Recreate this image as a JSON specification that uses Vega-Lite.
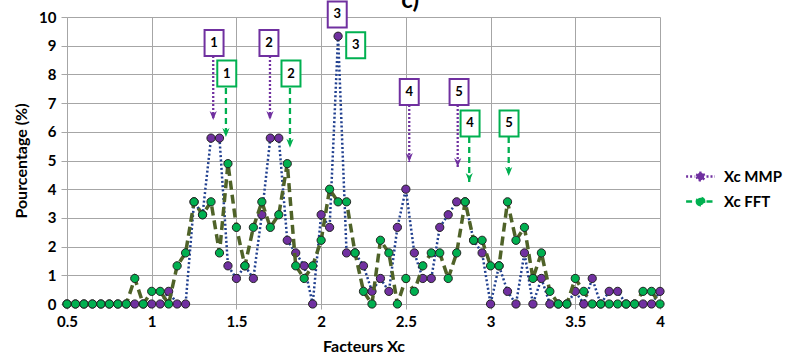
{
  "$schema": "https://vega.github.io/schema/vega-lite/v6.json",
  "width": 593,
  "height": 287,
  "autosize": {"type": "none"},
  "padding": {"left": 67, "top": 17, "right": 125, "bottom": 58},
  "background": "white",
  "config": {
    "view": {"stroke": null},
    "axis": {"labelFont": "Lato", "labelFontWeight": "bold", "labelFontSize": 15, "labelColor": "black", "titleFont": "Lato", "titleFontWeight": "bold", "titleFontSize": 16, "titleColor": "black", "gridColor": "#A6A6A6", "gridWidth": 1, "domainColor": "#A6A6A6", "tickColor": "#A6A6A6", "labelFlush": false},
    "axisX": {"tickCount": 7, "format": "~g", "tickSize": 5, "labelPadding": 5, "titlePadding": 9},
    "axisY": {"tickCount": 10, "tickSize": 6, "labelPadding": 5, "titlePadding": 9}
  },
  "datasets": {
    "d": [
      {"x": 0.5, "Xc MMP": 0, "Xc FFT": 0},
      {"x": 0.55, "Xc MMP": 0, "Xc FFT": 0},
      {"x": 0.6, "Xc MMP": 0, "Xc FFT": 0},
      {"x": 0.65, "Xc MMP": 0, "Xc FFT": 0},
      {"x": 0.7, "Xc MMP": 0, "Xc FFT": 0},
      {"x": 0.75, "Xc MMP": 0, "Xc FFT": 0},
      {"x": 0.8, "Xc MMP": 0, "Xc FFT": 0},
      {"x": 0.85, "Xc MMP": 0, "Xc FFT": 0},
      {"x": 0.9, "Xc MMP": 0, "Xc FFT": 0.89},
      {"x": 0.95, "Xc MMP": 0, "Xc FFT": 0},
      {"x": 1.0, "Xc MMP": 0, "Xc FFT": 0.44},
      {"x": 1.05, "Xc MMP": 0, "Xc FFT": 0.44},
      {"x": 1.1, "Xc MMP": 0.44, "Xc FFT": 0},
      {"x": 1.15, "Xc MMP": 0, "Xc FFT": 1.33},
      {"x": 1.2, "Xc MMP": 0, "Xc FFT": 1.78},
      {"x": 1.25, "Xc MMP": 3.56, "Xc FFT": 3.56},
      {"x": 1.3, "Xc MMP": 3.11, "Xc FFT": 3.11},
      {"x": 1.35, "Xc MMP": 5.78, "Xc FFT": 3.56},
      {"x": 1.4, "Xc MMP": 5.78, "Xc FFT": 1.78},
      {"x": 1.45, "Xc MMP": 1.33, "Xc FFT": 4.89},
      {"x": 1.5, "Xc MMP": 0.89, "Xc FFT": 2.67},
      {"x": 1.55, "Xc MMP": 1.33, "Xc FFT": 1.33},
      {"x": 1.6, "Xc MMP": 0.89, "Xc FFT": 2.67},
      {"x": 1.65, "Xc MMP": 3.11, "Xc FFT": 3.56},
      {"x": 1.7, "Xc MMP": 5.78, "Xc FFT": 2.67},
      {"x": 1.75, "Xc MMP": 5.78, "Xc FFT": 3.11},
      {"x": 1.8, "Xc MMP": 2.22, "Xc FFT": 4.89},
      {"x": 1.85, "Xc MMP": 1.78, "Xc FFT": 1.33},
      {"x": 1.9, "Xc MMP": 1.33, "Xc FFT": 0.89},
      {"x": 1.95, "Xc MMP": 0, "Xc FFT": 1.33},
      {"x": 2.0, "Xc MMP": 3.11, "Xc FFT": 2.22},
      {"x": 2.05, "Xc MMP": 2.67, "Xc FFT": 4.0},
      {"x": 2.1, "Xc MMP": 9.33, "Xc FFT": 3.56},
      {"x": 2.15, "Xc MMP": 1.78, "Xc FFT": 3.56},
      {"x": 2.2, "Xc MMP": 1.78, "Xc FFT": 1.78},
      {"x": 2.25, "Xc MMP": 1.33, "Xc FFT": 0.44},
      {"x": 2.3, "Xc MMP": 0.44, "Xc FFT": 0},
      {"x": 2.35, "Xc MMP": 0.89, "Xc FFT": 2.22},
      {"x": 2.4, "Xc MMP": 0.44, "Xc FFT": 1.78},
      {"x": 2.45, "Xc MMP": 2.67, "Xc FFT": 0},
      {"x": 2.5, "Xc MMP": 4.0, "Xc FFT": 0.89},
      {"x": 2.55, "Xc MMP": 1.78, "Xc FFT": 0.44},
      {"x": 2.6, "Xc MMP": 0.89, "Xc FFT": 1.33},
      {"x": 2.65, "Xc MMP": 0.89, "Xc FFT": 1.78},
      {"x": 2.7, "Xc MMP": 2.67, "Xc FFT": 1.78},
      {"x": 2.75, "Xc MMP": 3.11, "Xc FFT": 0.89},
      {"x": 2.8, "Xc MMP": 3.56, "Xc FFT": 1.78},
      {"x": 2.85, "Xc MMP": 3.56, "Xc FFT": 3.56},
      {"x": 2.9, "Xc MMP": 2.22, "Xc FFT": 2.22},
      {"x": 2.95, "Xc MMP": 1.78, "Xc FFT": 2.22},
      {"x": 3.0, "Xc MMP": 0, "Xc FFT": 1.33},
      {"x": 3.05, "Xc MMP": 1.33, "Xc FFT": 1.33},
      {"x": 3.1, "Xc MMP": 0.44, "Xc FFT": 3.56},
      {"x": 3.15, "Xc MMP": 0, "Xc FFT": 2.22},
      {"x": 3.2, "Xc MMP": 1.78, "Xc FFT": 2.67},
      {"x": 3.25, "Xc MMP": 0, "Xc FFT": 0.89},
      {"x": 3.3, "Xc MMP": 0.89, "Xc FFT": 1.78},
      {"x": 3.35, "Xc MMP": 0, "Xc FFT": 0.44},
      {"x": 3.4, "Xc MMP": 0, "Xc FFT": 0},
      {"x": 3.45, "Xc MMP": 0, "Xc FFT": 0},
      {"x": 3.5, "Xc MMP": 0.44, "Xc FFT": 0.89},
      {"x": 3.55, "Xc MMP": 0, "Xc FFT": 0.44},
      {"x": 3.6, "Xc MMP": 0.89, "Xc FFT": 0},
      {"x": 3.65, "Xc MMP": 0, "Xc FFT": 0},
      {"x": 3.7, "Xc MMP": 0.44, "Xc FFT": 0},
      {"x": 3.75, "Xc MMP": 0.44, "Xc FFT": 0},
      {"x": 3.8, "Xc MMP": 0, "Xc FFT": 0},
      {"x": 3.85, "Xc MMP": 0, "Xc FFT": 0},
      {"x": 3.9, "Xc MMP": 0, "Xc FFT": 0.44},
      {"x": 3.95, "Xc MMP": 0, "Xc FFT": 0.44},
      {"x": 4.0, "Xc MMP": 0.44, "Xc FFT": 0}
    ],
    "box": [
      {"lab": "1", "s": "Xc MMP", "x": 1.368, "y": 9.09},
      {"lab": "1", "s": "Xc FFT", "x": 1.443, "y": 8.03},
      {"lab": "2", "s": "Xc MMP", "x": 1.692, "y": 9.09},
      {"lab": "2", "s": "Xc FFT", "x": 1.822, "y": 8.03},
      {"lab": "3", "s": "Xc MMP", "x": 2.095, "y": 10.09},
      {"lab": "3", "s": "Xc FFT", "x": 2.204, "y": 9.02},
      {"lab": "4", "s": "Xc MMP", "x": 2.52, "y": 7.39},
      {"lab": "5", "s": "Xc MMP", "x": 2.814, "y": 7.39},
      {"lab": "4", "s": "Xc FFT", "x": 2.879, "y": 6.29},
      {"lab": "5", "s": "Xc FFT", "x": 3.109, "y": 6.29}
    ],
    "arrow": [
      {"s": "Xc MMP", "x": 1.363, "y": 8.64, "tip": 6.41},
      {"s": "Xc FFT", "x": 1.438, "y": 7.53, "tip": 5.82},
      {"s": "Xc MMP", "x": 1.698, "y": 8.64, "tip": 6.41},
      {"s": "Xc FFT", "x": 1.816, "y": 7.53, "tip": 5.44},
      {"s": "Xc MMP", "x": 2.52, "y": 6.93, "tip": 4.95},
      {"s": "Xc MMP", "x": 2.806, "y": 6.93, "tip": 4.77},
      {"s": "Xc FFT", "x": 2.874, "y": 5.82, "tip": 4.25},
      {"s": "Xc FFT", "x": 3.107, "y": 5.82, "tip": 4.46}
    ],
    "ttl": [{"lab": "c)", "x": 2.525, "y": 10.3}]
  },
  "layer": [
    {
      "data": {"name": "d"},
      "transform": [{"fold": ["Xc MMP", "Xc FFT"], "as": ["s", "v"]}, {"filter": "datum.s === 'Xc MMP'"}],
      "mark": {"type": "line", "stroke": "#203F8F", "strokeWidth": 2.5, "strokeDash": [2, 2.3]},
      "encoding": {
        "x": {"field": "x", "type": "quantitative", "title": "Facteurs Xc", "scale": {"domain": [0.5, 4], "nice": false, "zero": false}},
        "y": {"field": "v", "type": "quantitative", "title": "Pourcentage (%)", "scale": {"domain": [0, 10], "nice": false}}
      }
    },
    {
      "data": {"name": "d"},
      "transform": [{"fold": ["Xc MMP", "Xc FFT"], "as": ["s", "v"]}, {"filter": "datum.s === 'Xc MMP'"}],
      "mark": {"type": "circle", "size": 68, "stroke": "#222222", "strokeWidth": 1, "opacity": 1},
      "encoding": {
        "x": {"field": "x", "type": "quantitative", "title": "Facteurs Xc"},
        "y": {"field": "v", "type": "quantitative", "title": "Pourcentage (%)"},
        "color": {
          "field": "s", "type": "nominal",
          "scale": {"domain": ["Xc MMP", "Xc FFT"], "range": ["#7030A0", "#00B050"]},
          "legend": {
            "orient": "none", "legendX": 624, "legendY": 150, "title": null,
            "labelFont": "Lato", "labelFontWeight": "bold", "labelFontSize": 15, "labelColor": "black",
            "symbolSize": 256, "rowPadding": 6, "labelOffset": 14, "padding": 0,
            "symbolType": "M-1.8,0H-0.75M0.75,0H1.8M-0.46,0a0.46,0.46 0 1,0 0.92,0a0.46,0.46 0 1,0 -0.92,0Z",
            "symbolStrokeWidth": 2.5,
            "encode": {
              "symbols": {
                "stroke": {"condition": {"test": "datum.value === 'Xc MMP'", "value": "#203F8F"}, "value": "#4F6228"},
                "strokeDash": {"condition": {"test": "datum.value === 'Xc MMP'", "value": [2, 2]}, "value": [8, 0]},
                "opacity": {"value": 1}
              }
            }
          }
        }
      }
    },
    {
      "data": {"name": "d"},
      "transform": [{"fold": ["Xc MMP", "Xc FFT"], "as": ["s", "v"]}, {"filter": "datum.s === 'Xc FFT'"}],
      "mark": {"type": "line", "stroke": "#4F6228", "strokeWidth": 3.5, "strokeDash": [9, 5]},
      "encoding": {
        "x": {"field": "x", "type": "quantitative", "title": "Facteurs Xc"},
        "y": {"field": "v", "type": "quantitative", "title": "Pourcentage (%)"}
      }
    },
    {
      "data": {"name": "d"},
      "transform": [{"fold": ["Xc MMP", "Xc FFT"], "as": ["s", "v"]}, {"filter": "datum.s === 'Xc FFT'"}],
      "mark": {"type": "circle", "size": 68, "stroke": "#222222", "strokeWidth": 1, "opacity": 1},
      "encoding": {
        "x": {"field": "x", "type": "quantitative", "title": "Facteurs Xc"},
        "y": {"field": "v", "type": "quantitative", "title": "Pourcentage (%)"},
        "color": {"field": "s", "type": "nominal"}
      }
    },
    {
      "data": {"name": "arrow"},
      "mark": {"type": "rule", "strokeWidth": 2.3},
      "encoding": {
        "x": {"field": "x", "type": "quantitative", "title": "Facteurs Xc"},
        "y": {"field": "y", "type": "quantitative", "title": "Pourcentage (%)"},
        "y2": {"field": "tip"},
        "color": {"field": "s", "type": "nominal"},
        "strokeDash": {"field": "s", "type": "nominal", "scale": {"domain": ["Xc MMP", "Xc FFT"], "range": [[2, 2], [6, 4]]}, "legend": null}
      }
    },
    {
      "data": {"name": "arrow"},
      "mark": {"type": "point", "shape": "M-0.4,-1L0,0L0.4,-1L0,-0.7Z", "filled": true, "size": 324, "opacity": 1},
      "encoding": {
        "x": {"field": "x", "type": "quantitative", "title": "Facteurs Xc"},
        "y": {"field": "tip", "type": "quantitative", "title": "Pourcentage (%)"},
        "color": {"field": "s", "type": "nominal"}
      }
    },
    {
      "data": {"name": "box"},
      "transform": [{"filter": "datum.s === 'Xc MMP'"}],
      "mark": {"type": "point", "shape": "M-0.73,-1H0.73V1H-0.73Z", "size": 676, "filled": true, "fill": "white", "stroke": "#7030A0", "strokeWidth": 2, "opacity": 1},
      "encoding": {
        "x": {"field": "x", "type": "quantitative", "title": "Facteurs Xc"},
        "y": {"field": "y", "type": "quantitative", "title": "Pourcentage (%)"}
      }
    },
    {
      "data": {"name": "box"},
      "transform": [{"filter": "datum.s === 'Xc FFT'"}],
      "mark": {"type": "point", "shape": "M-0.73,-1H0.73V1H-0.73Z", "size": 676, "filled": true, "fill": "white", "stroke": "#00B050", "strokeWidth": 2, "opacity": 1},
      "encoding": {
        "x": {"field": "x", "type": "quantitative", "title": "Facteurs Xc"},
        "y": {"field": "y", "type": "quantitative", "title": "Pourcentage (%)"}
      }
    },
    {
      "data": {"name": "box"},
      "mark": {"type": "text", "font": "Lato", "fontWeight": "bold", "fontSize": 13, "color": "black", "baseline": "middle", "align": "center"},
      "encoding": {
        "x": {"field": "x", "type": "quantitative", "title": "Facteurs Xc"},
        "y": {"field": "y", "type": "quantitative", "title": "Pourcentage (%)"},
        "text": {"field": "lab"}
      }
    },
    {
      "data": {"name": "ttl"},
      "mark": {"type": "text", "font": "Lato", "fontWeight": "bold", "fontSize": 24, "color": "black", "baseline": "alphabetic", "align": "center"},
      "encoding": {
        "x": {"field": "x", "type": "quantitative", "title": "Facteurs Xc"},
        "y": {"field": "y", "type": "quantitative", "title": "Pourcentage (%)"},
        "text": {"field": "lab"}
      }
    }
  ]
}
